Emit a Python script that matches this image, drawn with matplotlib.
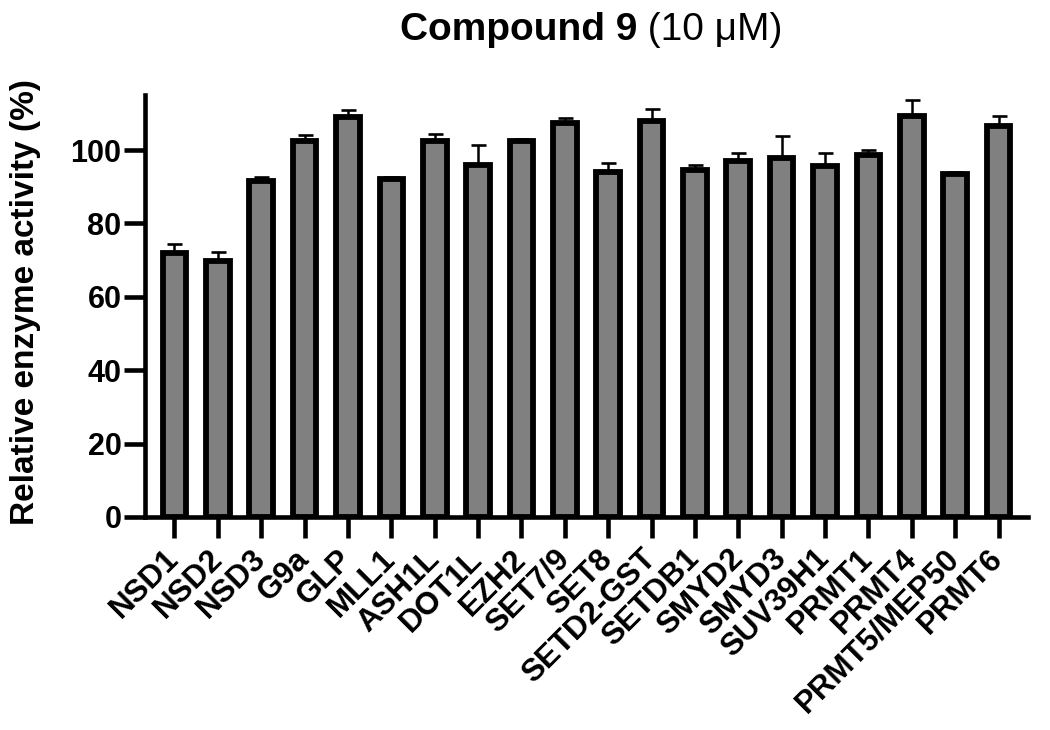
import matplotlib
matplotlib.use("Agg")
import matplotlib.pyplot as plt
import numpy as np

categories = ["NSD1", "NSD2", "NSD3", "G9a", "GLP", "MLL1", "ASH1L", "DOT1L", "EZH2",
              "SET7/9", "SET8", "SETD2-GST", "SETDB1", "SMYD2", "SMYD3", "SUV39H1",
              "PRMT1", "PRMT4", "PRMT5/MEP50", "PRMT6"]
values = [71.9, 69.8, 91.7, 102.5, 108.9, 92.2, 102.5, 96.0, 102.5, 107.4,
          93.9, 107.8, 94.5, 96.9, 97.7, 95.6, 98.7, 109.2, 93.6, 106.5]
errors = [2.4, 2.4, 1.0, 1.5, 2.0, 0.5, 1.8, 5.5, 0.5, 1.2,
          2.6, 3.5, 1.4, 2.2, 6.0, 3.7, 1.2, 4.4, 0.5, 2.8]
yticks = [0, 20, 40, 60, 80, 100]

plt.rcParams['font.family'] = ['Liberation Sans', 'DejaVu Sans']

fig = plt.figure(figsize=(10.5, 7.3), dpi=100)
ax = fig.add_axes([145/1050, 1-517/730, (1028-145)/1050, (517-95)/730])

x = np.arange(len(categories))
ax.errorbar(x, values, yerr=[np.zeros(len(errors)), errors], fmt='none',
            ecolor='black', elinewidth=1.8, capsize=5.4, capthick=1.9, zorder=1)
ax.bar(x, values, width=0.545, color='#808080', edgecolor='black', linewidth=4.2, zorder=2)

ax.set_xlim(-0.68, len(categories) - 1 + 0.68)
ax.set_ylim(0, 115)
ax.set_yticks(yticks)
ax.set_xticks(x)
ax.set_xticklabels(categories, rotation=45, ha='right', va='center',
                   rotation_mode='anchor', fontsize=22.5, fontweight='bold')
for lab in ax.get_yticklabels():
    lab.set_fontsize(22)
    lab.set_fontweight('bold')

for s in ['top', 'right']:
    ax.spines[s].set_visible(False)
for s in ['left', 'bottom']:
    ax.spines[s].set_linewidth(3.3)
ax.tick_params(axis='both', which='major', length=15, width=3.3, direction='out')
ax.tick_params(axis='y', pad=2)
ax.tick_params(axis='x', pad=12)

ax.set_ylabel("Relative enzyme activity (%)", fontsize=24, fontweight='bold')
ax.yaxis.set_label_coords(-0.118, 0.509)

fig.text(637/1050, 1-40/730, "Compound 9", ha='right', va='baseline',
         fontsize=28, fontweight='bold')
fig.text(637/1050, 1-40/730, " (10 \u03bcM)", ha='left', va='baseline',
         fontsize=28)

fig.savefig("out.png", dpi=100)
